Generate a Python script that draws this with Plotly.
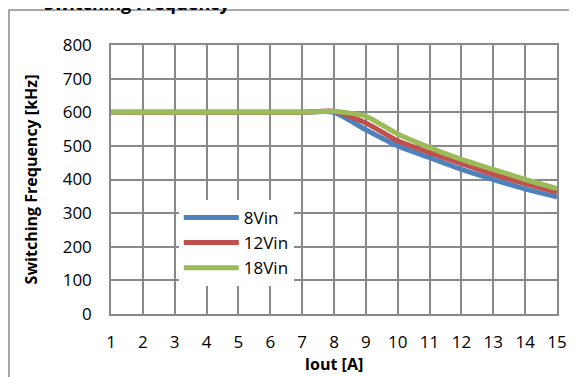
import plotly.graph_objects as go

iout = [1, 2, 3, 4, 5, 6, 7, 8, 9, 10, 11, 12, 13, 14, 15]
f_8vin = [600, 600, 600, 600, 600, 600, 600, 600, 548, 500, 465, 430, 400, 372, 348]
f_12vin = [600, 600, 600, 600, 600, 600, 600, 603, 568, 515, 480, 447, 415, 388, 362]
f_18vin = [600, 600, 600, 600, 600, 600, 600, 603, 588, 535, 495, 460, 430, 400, 373]
series_names = ["8Vin", "12Vin", "18Vin"]
series_colors = ["#4F81BD", "#C0504D", "#9BBB59"]
y_ticks = [0, 100, 200, 300, 400, 500, 600, 700, 800]

FONT = "Open Sans"
fig = go.Figure()
for name, vals, col in zip(series_names, [f_8vin, f_12vin, f_18vin], series_colors):
    fig.add_trace(go.Scatter(x=iout, y=vals, name=name, mode="lines",
                             line=dict(color=col, width=5, shape="spline", smoothing=0.6)))

# page body has an 8px default margin, so the figure is drawn offset by (8, 8)
L, T, PW, PH = 103, 37, 446, 269
grid = "#898989"
fig.update_layout(
    width=577, height=377,
    margin=dict(l=L, r=577 - L - PW, t=T, b=377 - T - PH, autoexpand=False),
    paper_bgcolor="white", plot_bgcolor="white",
    font=dict(family=FONT, size=17, color="black"),
    showlegend=True,
    legend=dict(x=0.152, y=0.424, xanchor="left", yanchor="top",
                bgcolor="white", borderwidth=0, itemwidth=55,
                font=dict(family=FONT, size=17), tracegroupgap=0),
    xaxis=dict(range=[1, 15], tickmode="array", tickvals=iout,
               ticktext=[str(v) for v in iout], automargin=False,
               showgrid=True, gridcolor=grid, gridwidth=1.5,
               showline=True, linecolor=grid, linewidth=1.5, mirror=True,
               zeroline=False, ticks="", ticklabelstandoff=12,
               title=dict(text="<b>Iout [A]</b>", font=dict(size=16), standoff=0)),
    yaxis=dict(range=[0, 800], tickmode="array", tickvals=y_ticks, automargin=False,
               showgrid=True, gridcolor=grid, gridwidth=1.5,
               showline=True, linecolor=grid, linewidth=1.5, mirror=True,
               zeroline=False, ticks="", ticklabelstandoff=14,
               title=dict(text="<b>Switching Frequency [kHz]</b>", font=dict(size=16), standoff=21)),
)

# outer chart border (cropped chart area)
fig.add_shape(type="rect", xref="paper", yref="paper",
              x0=(1 - L) / PW, x1=(600 - L) / PW,
              y0=-100 / PH, y1=1 + (T - 2) / PH,
              line=dict(color="#8C8C8C", width=1.5), fillcolor="rgba(0,0,0,0)", layer="below")

# chart title, cropped at the top
fig.add_annotation(text="<b>Switching Frequency</b>", xref="paper", yref="paper",
                   x=(34 - L) / PW, y=1 + (T + 5) / PH, xanchor="left", yanchor="middle",
                   showarrow=False, font=dict(size=18, family=FONT))

fig.write_html("out.html")
